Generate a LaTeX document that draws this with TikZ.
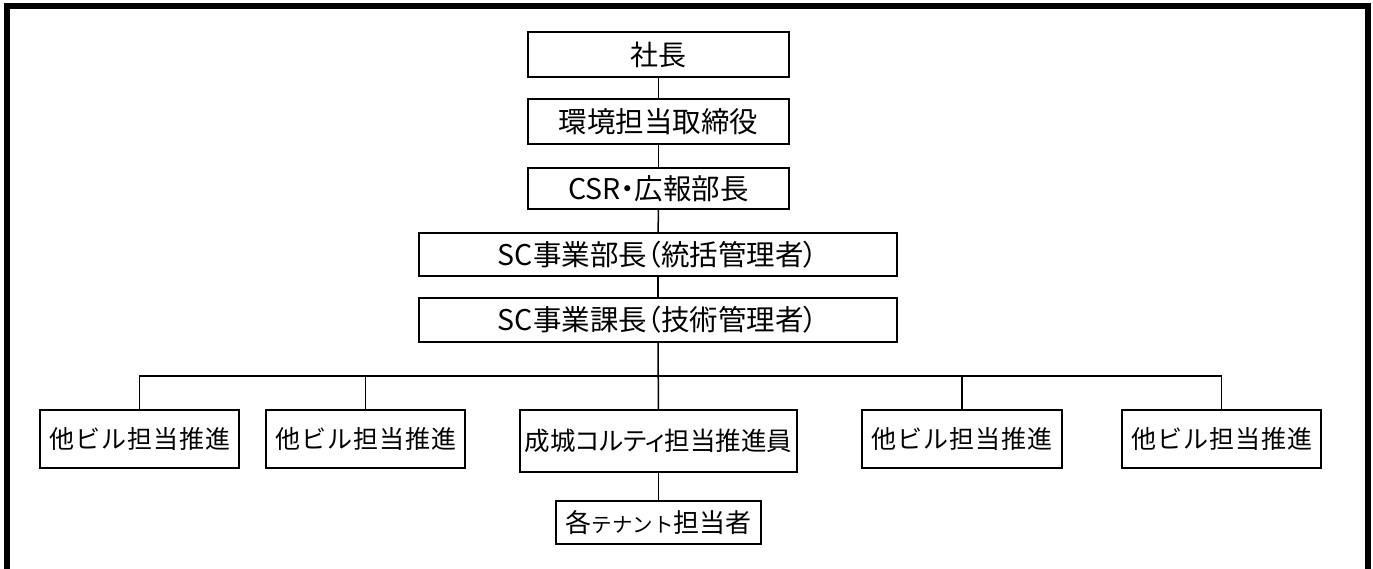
\documentclass[tikz,border=0pt]{standalone}
\usepackage{fontspec}
\newfontfamily\jp{Noto Sans CJK JP}
\newfontfamily\jpp[RawFeature=+palt]{Noto Sans CJK JP}
\newfontfamily\jpls[LetterSpace=4]{Noto Sans CJK JP}
\begin{document}
\begin{tikzpicture}[x=1pt,y=-1pt,
  box/.style={draw=black,line width=2pt,rectangle,inner sep=0pt,anchor=center,fill=white},
  conn/.style={draw=black,line width=1.5pt}]
\useasboundingbox (0,0) rectangle (1373,569);
\fill[white] (0,0) rectangle (1373,569);
\draw[line width=6pt,miter limit=10] (7,569) -- (7,6) -- (1368,6) -- (1368,569);

\node[box,minimum width=261pt,minimum height=45pt] (pres) at (658.5,54.5) {\jp\fontsize{28}{30}\selectfont 社長};
\node[box,minimum width=261pt,minimum height=45pt] (dir) at (658.5,121.5) {\jp\fontsize{28.5}{30}\selectfont 環境担当取締役};
\node[box,minimum width=261pt,minimum height=41pt] (csr) at (658.5,188.5) {\jpp\fontsize{28.5}{30}\selectfont CSR・広報部長};
\node[box,minimum width=478pt,minimum height=43pt] (sca) at (658,254.5) {\jpp\fontsize{28.5}{30}\selectfont SC事業部長（統括管理者）};
\node[box,minimum width=478pt,minimum height=44pt] (scb) at (658,320) {\jpp\fontsize{28.5}{30}\selectfont SC事業課長（技術管理者）};

\node[box,minimum width=199pt,minimum height=58pt] (b1) at (139.5,439) {\jpls\fontsize{25}{28}\selectfont 他ビル担当推進};
\node[box,minimum width=199pt,minimum height=58pt] (b2) at (365.5,439) {\jpls\fontsize{25}{28}\selectfont 他ビル担当推進};
\node[box,minimum width=277pt,minimum height=62pt] (b3) at (658.5,441) {\jpp\fontsize{25.5}{28}\selectfont 成城コルティ担当推進員};
\node[box,minimum width=200pt,minimum height=58pt] (b4) at (962,439) {\jpls\fontsize{25}{28}\selectfont 他ビル担当推進};
\node[box,minimum width=199pt,minimum height=58pt] (b5) at (1221.5,439) {\jpls\fontsize{25}{28}\selectfont 他ビル担当推進};
\node[box,minimum width=205pt,minimum height=43pt] (b6) at (658.5,522.5) {\jp\fontsize{26}{30}\selectfont 各{\fontsize{20.5}{22}\selectfont テナント}担当者};

\coordinate (bar) at (658.5,376);
\draw[conn] (pres) -- (dir);
\draw[conn] (dir) -- (csr);
\draw[conn] (csr) -- (sca);
\draw[conn] (sca) -- (scb);
\draw[conn] (scb) -- (b3);
\draw[conn] (b3) -- (b6);
\draw[conn] (b1.north) |- (bar) -| (b5.north);
\draw[conn] (b2.north) -- (b2.north |- bar);
\draw[conn] (b4.north) -- (b4.north |- bar);
\end{tikzpicture}
\end{document}
